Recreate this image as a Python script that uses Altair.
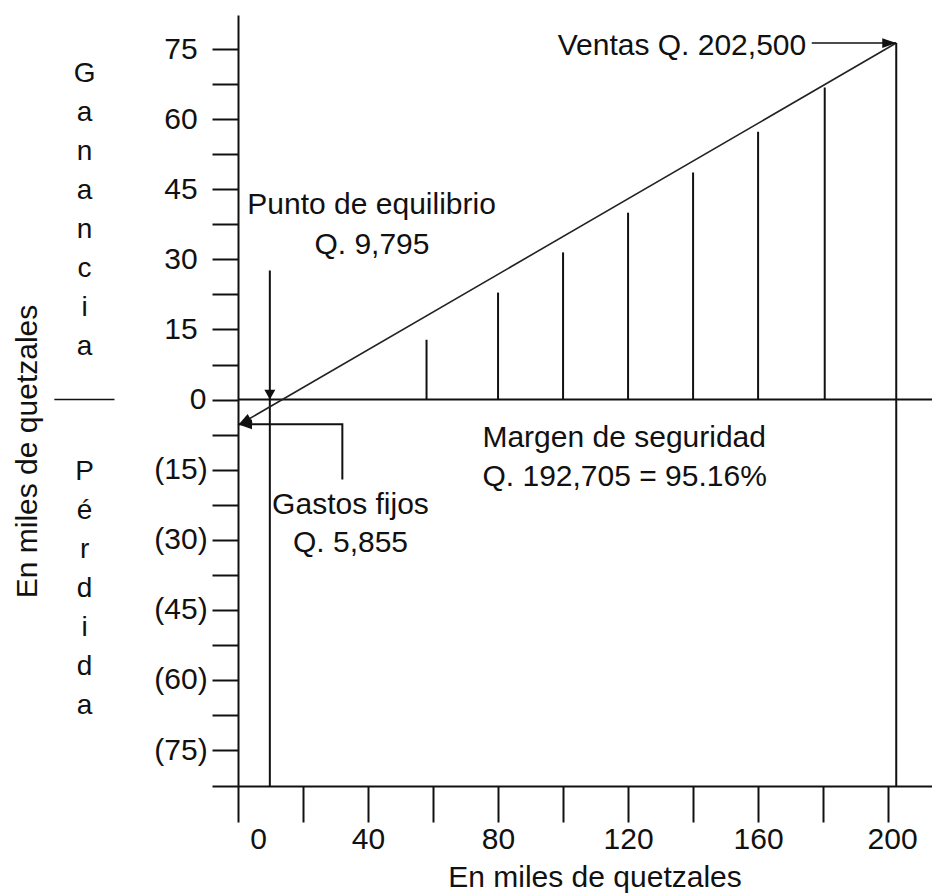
import altair as alt
import pandas as pd

FONT = "Liberation Sans"
INK = "#111111"
FS = 30

# ---- values (thousands of quetzales) ----
x_tick_values = [0, 20, 40, 60, 80, 100, 120, 140, 160, 180, 200]
y_tick_values = [-82.7, -75, -67.5, -60, -52.5, -45, -37.5, -30, -22.5, -15, -7.5,
                 0, 7.5, 15, 22.5, 30, 37.5, 45, 52.5, 60, 67.5, 75]
x_domain = [0, 213.5]
y_domain = [-82.7, 82.3]

pv_line_x = [0, 202.5]
pv_line_y = [-5.5, 76.3]

stem_x = [58, 80, 100, 120, 140, 160, 180.5]
stem_top = [12.8, 22.9, 31.5, 40.0, 48.6, 57.3, 66.8]

breakeven_x = 9.795
breakeven_top = 27.6
sales_x = 202.5
sales_y = 76.3

ventas_arrow_x = [176.5, 202.5]
gastos_path_x = [32.1, 32.1, 0]
gastos_path_y = [-17.1, -5.3, -5.3]

center_labels = ["Punto de equilibrio", "Q. 9,795", "Gastos fijos", "Q. 5,855"]
center_label_x = [41.1, 41.2, 34.6, 34.6]
center_label_y = [41.6, 33.1, -22.6, -30.7]

left_labels = ["Margen de seguridad", "Q. 192,705 = 95.16%"]
left_label_x = [75.2, 75.2]
left_label_y = [-8.2, -16.6]

right_labels = ["Ventas Q. 202,500"]
right_label_x = [174.8]
right_label_y = [75.6]

# vertical words: position of their first letter
side_words = ["Ganancia", "Pérdida"]
side_word_x = [-47.2, -47.2]
side_word_y = [69.7, -15.4]
divider_x = [-56.5, -38.0]

# ---- scales & axes ----
xs = alt.Scale(domain=x_domain, nice=False, zero=False)
ys = alt.Scale(domain=y_domain, nice=False, zero=False)

x_axis = alt.Axis(
    values=x_tick_values,
    title="En miles de quetzales",
    labelExpr="datum.value % 40 == 0 ? format(datum.value, 'd') : ''",
    labelFont=FONT, labelFontSize=FS, labelColor=INK, labelPadding=2,
    labelOffset={"condition": [{"test": "datum.value == 0", "value": 20},
                               {"test": "datum.value == 200", "value": 4}],
                 "value": 0},
    labelFlush=False, labelOverlap=False,
    tickSize=36, tickWidth=2, tickColor=INK,
    domainColor=INK, domainWidth=2, grid=False,
    titleFont=FONT, titleFontSize=FS, titleFontWeight="normal", titleColor=INK,
    titleX=356.5, titleY=91, titleAlign="center", titleBaseline="middle",
)

y_axis = alt.Axis(
    values=y_tick_values,
    title="En miles de quetzales",
    labelExpr="datum.value % 15 == 0 ? (datum.value < 0 ? '(' + format(-datum.value, 'd') + ')' : format(datum.value, 'd')) : ''",
    labelFont=FONT, labelFontSize=FS, labelColor=INK,
    labelAlign="center", labelBaseline="middle",
    labelPadding={"condition": {"test": "datum.value == 0", "value": 14.5}, "value": 31.5},
    labelFlush=False, labelOverlap=False,
    tickSize=26, tickWidth=2, tickColor=INK,
    domainColor=INK, domainWidth=2, grid=False,
    titleFont=FONT, titleFontSize=FS, titleFontWeight="normal", titleColor=INK,
    titleAngle=270, titleX=-210.5, titleY=436, titleAlign="center", titleBaseline="middle",
)


def X(f):
    return alt.X(f, type="quantitative", scale=xs, axis=x_axis)


def Y(f):
    return alt.Y(f, type="quantitative", scale=ys, axis=y_axis)


# zero line (carries the axes)
zero_df = pd.DataFrame({"x": [0], "x2": [x_domain[1]], "y": [0]})
zero_line = alt.Chart(zero_df).mark_rule(color=INK, strokeWidth=2).encode(
    x=X("x"), x2="x2", y=Y("y"))

# vertical rules
vx = stem_x + [breakeven_x, sales_x]
vy0 = [0] * len(stem_x) + [y_domain[0], y_domain[0]]
vy1 = stem_top + [breakeven_top, sales_y]
vr_df = pd.DataFrame({"x": vx, "y0": vy0, "y1": vy1})
vrules = alt.Chart(vr_df).mark_rule(color=INK, strokeWidth=2).encode(
    x=X("x"), y=Y("y0"), y2="y1")

# profit-volume line
pv_df = pd.DataFrame({"x": pv_line_x, "y": pv_line_y})
pv_line = alt.Chart(pv_df).mark_line(color="#222222", strokeWidth=1.6).encode(
    x=X("x"), y=Y("y"))

# Ventas arrow shaft
va_df = pd.DataFrame({"x0": [ventas_arrow_x[0]], "x1": [ventas_arrow_x[1]], "y": [sales_y]})
ventas_arrow = alt.Chart(va_df).mark_rule(color=INK, strokeWidth=1.6).encode(
    x=X("x0"), x2="x1", y=Y("y"))

# Gastos fijos elbow
g_df = pd.DataFrame({"x": gastos_path_x, "y": gastos_path_y, "o": [0, 1, 2]})
gastos = alt.Chart(g_df).mark_line(color=INK, strokeWidth=2).encode(
    x=X("x"), y=Y("y"), order="o:Q")

# arrowheads
LEFT = "M0,0 L2,-0.7 L2,0.7 Z"
RIGHT = "M0,0 L-2,-0.7 L-2,0.7 Z"
DOWN = "M0,0 L-1,-1.8 L1,-1.8 Z"
ah_df = pd.DataFrame({
    "x": [breakeven_x, 0, 0, sales_x],
    "y": [0, gastos_path_y[-1], pv_line_y[0], sales_y],
    "shape": [DOWN, LEFT, LEFT, RIGHT],
    "angle": [0, 0, 330, 0],
    "size": [121, 196, 196, 196],
})
heads = alt.Chart(ah_df).mark_point(filled=True, opacity=1, color=INK, strokeWidth=0).encode(
    x=X("x"), y=Y("y"),
    shape=alt.Shape("shape:N", scale=None),
    angle=alt.Angle("angle:Q", scale=None),
    size=alt.Size("size:Q", scale=None),
)

# annotations
def text_layer(labels, xv, yv, align):
    df = pd.DataFrame({"t": labels, "x": xv, "y": yv})
    return alt.Chart(df).mark_text(font=FONT, fontSize=FS, color=INK, align=align,
                                   baseline="middle").encode(
        x=X("x"), y=Y("y"), text="t:N")

t_center = text_layer(center_labels, center_label_x, center_label_y, "center")
t_left = text_layer(left_labels, left_label_x, left_label_y, "left")
t_right = text_layer(right_labels, right_label_x, right_label_y, "right")

sw_df = pd.DataFrame({"t": ["\n".join(w) for w in side_words], "x": side_word_x, "y": side_word_y})
side = alt.Chart(sw_df).mark_text(font=FONT, fontSize=28, color=INK, align="center",
                                  baseline="middle", lineBreak="\n", lineHeight=39).encode(
    x=X("x"), y=Y("y"), text="t:N")

div_df = pd.DataFrame({"x0": [divider_x[0]], "x1": [divider_x[1]], "y": [0]})
divider = alt.Chart(div_df).mark_rule(color=INK, strokeWidth=1.5).encode(
    x=X("x0"), x2="x1", y=Y("y"))

chart = alt.layer(
    zero_line, vrules, pv_line, ventas_arrow, gastos, heads,
    t_center, t_left, t_right, side, divider,
).properties(
    width=694, height=771,
    padding={"left": 230, "top": 7, "right": 0, "bottom": 107},
    autosize=alt.AutoSizeParams(type="none"),
    background="white",
).configure_view(stroke=None)

chart.save("out.html", embed_options={"renderer": "svg", "actions": False})
